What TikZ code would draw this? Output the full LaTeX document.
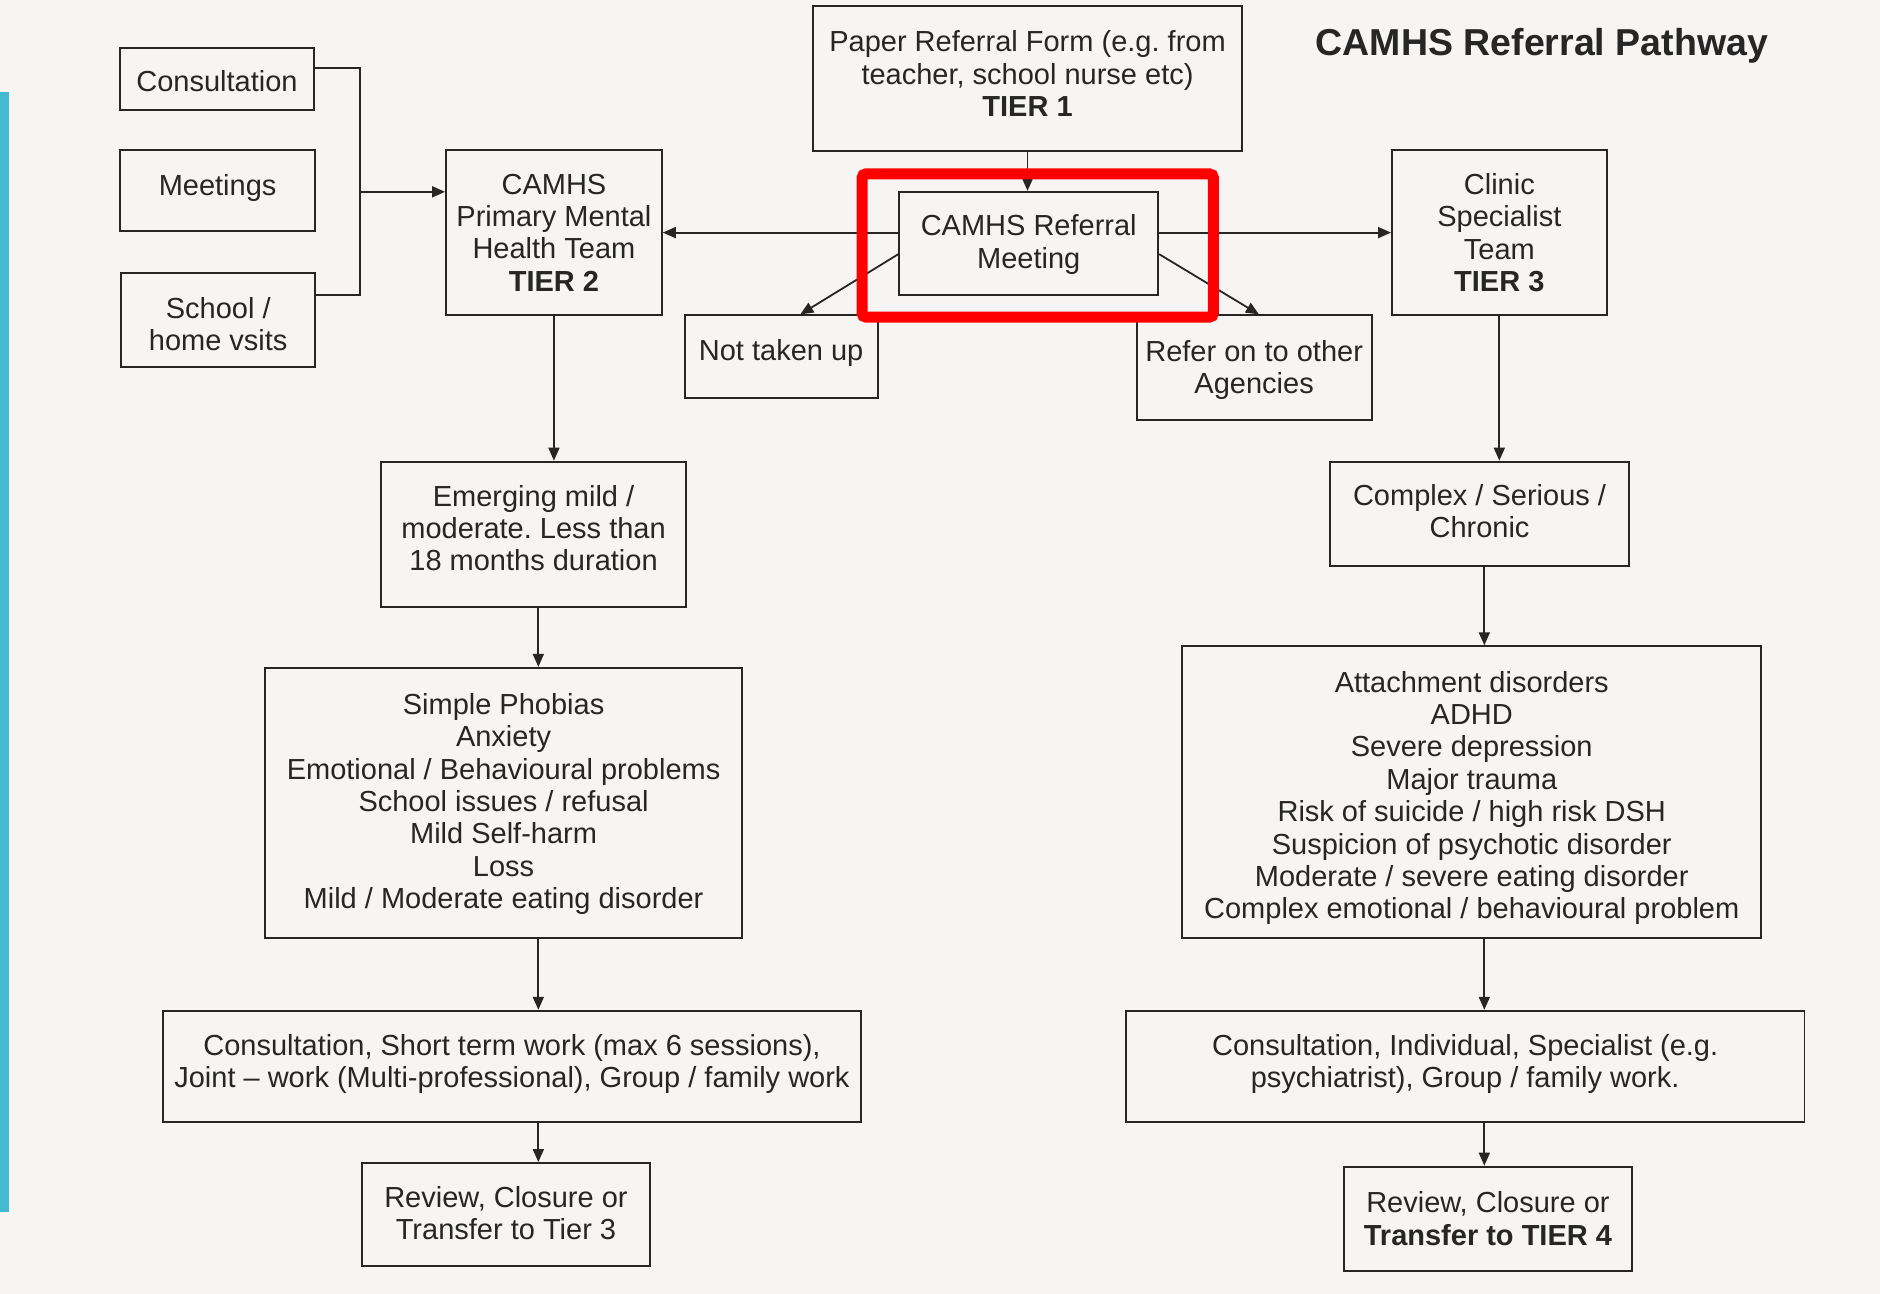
\documentclass[tikz,border=0pt]{standalone}
\usepackage{fontspec}
\setmainfont{Liberation Sans}
\usetikzlibrary{fit,arrows.meta,calc}
\definecolor{bg}{HTML}{F6F5F3}
\definecolor{ink}{HTML}{262626}
\definecolor{barblue}{HTML}{45B8D2}
\definecolor{hilite}{HTML}{FF0000}
\frenchspacing
\newcommand\mybox[7]{%
  \node[box, fit={(#2,#3) (#4,#5)}] (#1) {};
  \node[txt] (#1-t) at ($(#1.center)+(0,#6)$) {#7};}
\begin{document}
\frenchspacing
\begin{tikzpicture}[x=1.199pt,y=-1.199pt,
  box/.style={draw=ink, line width=1.9pt, inner sep=0pt},
  txt/.style={inner sep=0pt, align=center, text=ink, font=\fontsize{29}{32.4}\selectfont},
  conn/.style={draw=ink, line width=1.8pt},
  arr/.style={conn, -{Triangle[length=13pt,width=11pt]}}]
\useasboundingbox (0,0) rectangle (1568,1079);
\fill[bg] (0,0) rectangle (1568,1079);
\fill[barblue] (0,76.7) rectangle (7.5,1011);

% title
\node[font=\fontsize{37.5}{40}\selectfont\bfseries, text=ink] (title) at (1286,38) {CAMHS Referral Pathway};

% boxes: name, x1, y1, x2, y2, text shift, text
\mybox{paper}{678}{5}{1036}{126}{-4}{Paper Referral Form (e.g. from\\teacher, school nurse etc)\\\textbf{TIER 1}}
\mybox{cons}{100}{40}{262}{92}{2}{Consultation}
\mybox{meetg}{100}{125}{263}{193}{-2}{Meetings}
\mybox{school}{101}{228}{263}{306}{3.5}{School /\\home vsits}
\mybox{prim}{372}{125}{552}{263}{0}{CAMHS\\Primary Mental\\Health Team\\\textbf{TIER 2}}
\mybox{meet}{750}{160}{966}{246}{1}{CAMHS Referral\\Meeting}
\mybox{clinic}{1161}{125}{1340}{263}{0}{Clinic\\Specialist\\Team\\\textbf{TIER 3}}
\mybox{notup}{571}{263}{732}{332}{-3}{Not taken up}
\mybox{refer}{948}{263}{1144}{350}{2}{Refer on to other\\Agencies}
\mybox{emerg}{318}{385}{572}{506}{-5}{Emerging mild /\\moderate. Less than\\18 months duration}
\mybox{simple}{221}{557}{619}{782}{1}{Simple Phobias\\Anxiety\\Emotional / Behavioural problems\\School issues / refusal\\Mild Self-harm\\Loss\\Mild / Moderate eating disorder}
\mybox{cst}{136}{843}{718}{936}{-2}{Consultation, Short term work (max 6 sessions),\\Joint -- work (Multi-professional), Group / family work}
\mybox{rev1}{302}{970}{542}{1056}{-1}{Review, Closure or\\Transfer to Tier 3}
\mybox{cplx}{1109}{385}{1359}{472}{-2}{Complex / Serious /\\Chronic}
\mybox{attach}{986}{539}{1469}{782}{5}{Attachment disorders\\ADHD\\Severe depression\\Major trauma\\Risk of suicide / high risk DSH\\Suspicion of psychotic disorder\\Moderate / severe eating disorder\\Complex emotional / behavioural problem}
\mybox{cind}{939}{843}{1505}{936}{-2}{Consultation, Individual, Specialist (e.g.\\psychiatrist), Group / family work.}
\mybox{rev2}{1121}{973}{1361}{1060}{0}{Review, Closure or\\\textbf{Transfer to TIER 4}}

% bracket from left boxes
\coordinate (bk) at (300,160);
\draw[conn] (cons.east |- 0,57) -- (300,57) -- (300,246) -- (school.east |- 0,246);
\draw[arr] (bk) -- (bk -| prim.west);

% top connectors
\draw[arr] (paper.south) -- (paper.south |- meet.north);
\draw[arr] (meet.west |- prim.east) -- (prim.east);
\draw[arr] (meet.east |- clinic.west) -- (clinic.west);
\draw[arr] (meet.west |- 0,212) -- ($(notup.north)+(16,0)$);
\draw[arr] (meet.east |- 0,212) -- ($(refer.north)+(4,0)$);

% left column
\coordinate (lx) at (449,0);
\draw[arr] (prim.south) -- (prim.south |- emerg.north);
\draw[arr] (emerg.south -| lx) -- (simple.north -| lx);
\draw[arr] (simple.south -| lx) -- (cst.north -| lx);
\draw[arr] (cst.south -| lx) -- (rev1.north -| lx);

% right column
\coordinate (rx) at (1238,0);
\draw[arr] (clinic.south) -- (clinic.south |- cplx.north);
\draw[arr] (cplx.south -| rx) -- (attach.north -| rx);
\draw[arr] (attach.south -| rx) -- (cind.north -| rx);
\draw[arr] (cind.south -| rx) -- (rev2.north -| rx);

% highlight
\draw[hilite, line width=11pt, rounded corners=4pt] (719,145) rectangle (1012,264.5);
\end{tikzpicture}
\end{document}
